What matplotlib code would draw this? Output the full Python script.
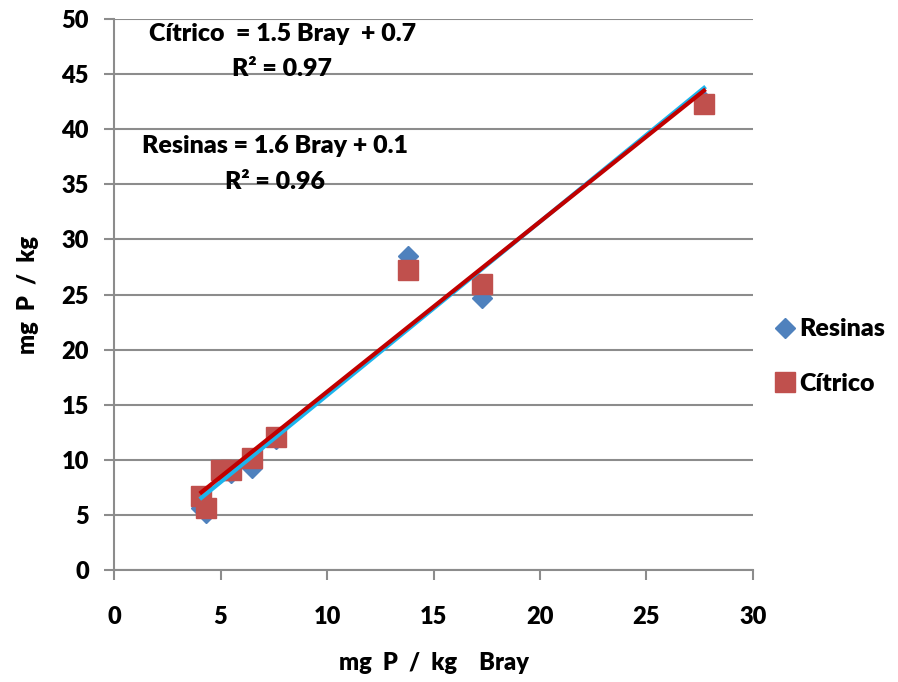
import numpy as np
import matplotlib
matplotlib.use('Agg')
import matplotlib.pyplot as plt

plt.rcParams['font.family'] = ['Lato', 'DejaVu Sans']
plt.rcParams['font.weight'] = 'heavy'
plt.rcParams['axes.labelweight'] = 'heavy'

# P extraido con Bray (x) frente a Resinas y Acido citrico (y), mg P / kg
bray    = [4.1, 4.3, 5.0, 5.5, 6.5, 7.6, 13.8, 17.3, 27.7]
resinas = [5.6, 5.2, 8.9, 8.8, 9.3, 11.9, 28.5, 24.7, 42.6]
citrico = [6.7, 5.6, 9.1, 9.1, 10.2, 12.1, 27.2, 26.0, 42.3]

xticks = [0, 5, 10, 15, 20, 25, 30]
yticks = [0, 5, 10, 15, 20, 25, 30, 35, 40, 45, 50]

def ajuste(x, y):
	x = np.asarray(x); y = np.asarray(y)
	m, b = np.polyfit(x, y, 1)
	r2 = np.corrcoef(x, y)[0, 1]**2
	return m, b, r2

m_r, b_r, r2_r = ajuste(bray, resinas)
m_c, b_c, r2_c = ajuste(bray, citrico)

fig = plt.figure(figsize=(8.98, 6.82), dpi=100)
ax = fig.add_axes([0.127, 0.1642, 0.7115, 0.8079])

ax.plot(bray, resinas, 'D', color='#4F81BD', markersize=10, label='Resinas', zorder=3)
ax.plot(bray, citrico, 's', color='#C0504D', markersize=15, label='Cítrico', zorder=4)

# rectas de tendencia, dentro del rango de datos
xl = np.array([min(bray), max(bray)])
ax.plot(xl, m_r*xl + b_r, color='#1CB4EC', lw=3, zorder=5)
ax.plot(xl, m_c*xl + b_c, color='#C00000', lw=3, zorder=6)

fs = 17
ax.text(0.263, 0.993, 'Cítrico  = %.1f Bray  + %.1f\nR² = %.2f' % (m_c, b_c, r2_c),
	transform=ax.transAxes, ha='center', va='top', fontsize=18, linespacing=1.75)
ax.text(0.252, 0.789, 'Resinas = %.1f Bray + %.1f\nR² = %.2f' % (m_r, b_r, r2_r),
	transform=ax.transAxes, ha='center', va='top', fontsize=18, linespacing=1.75)

ax.set_xlim(0, 30)
ax.set_ylim(0, 50)
ax.set_xticks(xticks)
ax.set_yticks(yticks)
ax.grid(axis='y', color='#8C8C8C', lw=1.5)
ax.set_axisbelow(True)
for s in ['top', 'right']:
	ax.spines[s].set_visible(False)
for s in ['left', 'bottom']:
	ax.spines[s].set_color('#8C8C8C')
	ax.spines[s].set_linewidth(1.5)
ax.tick_params(axis='y', length=7, width=1.5, color='#8C8C8C', pad=11, labelsize=fs)
ax.tick_params(axis='x', length=7, width=1.5, color='#8C8C8C', pad=19, labelsize=fs)

ax.set_xlabel('mg  P  /  kg    Bray', fontsize=fs, labelpad=17)
ax.set_ylabel('mg  P  /  kg', fontsize=fs, labelpad=16)

fig.legend(loc='center left', bbox_to_anchor=(0.834, 0.477), frameon=False,
	fontsize=18, handletextpad=0.0, labelspacing=1.3, markerscale=1.0,
	handlelength=1.1)

fig.savefig('out.png', dpi=100)
